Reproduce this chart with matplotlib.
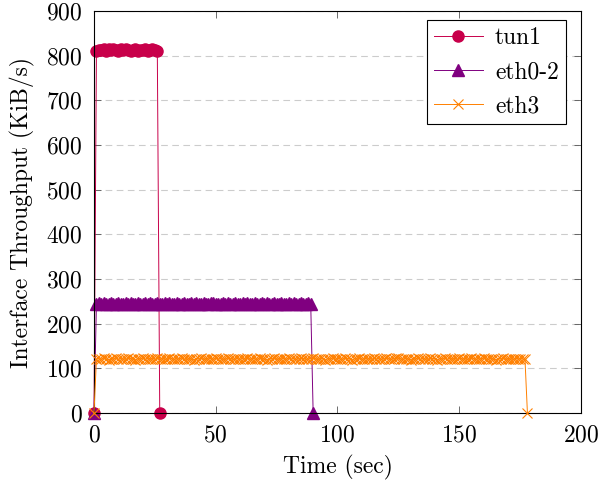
import numpy as np
import matplotlib.pyplot as plt

plt.rcParams['font.family'] = 'cmr10'
plt.rcParams['mathtext.fontset'] = 'cm'
plt.rcParams['axes.formatter.use_mathtext'] = True

# throughput samples, one per second
tun1 = [0,
        810, 813, 812, 815, 811, 814, 812, 816, 813, 811,
        814, 812, 815, 813, 810, 812, 814, 811, 813, 812,
        815, 811, 813, 814, 812, 810,
        0]

eth02 = [0,
         244, 246, 245, 247, 244, 245, 246, 243, 245, 247,
         245, 244, 246, 245, 247, 244, 245, 246, 244, 245,
         246, 245, 247, 244, 245, 246, 245, 244, 247, 245,
         246, 244, 245, 247, 245, 244, 246, 245, 244, 246,
         245, 247, 244, 245, 246, 245, 244, 246, 247, 245,
         244, 245, 246, 245, 247, 244, 245, 246, 244, 245,
         246, 245, 247, 244, 245, 246, 245, 244, 247, 245,
         246, 244, 245, 247, 245, 244, 246, 245, 244, 246,
         245, 247, 244, 245, 246, 245, 244, 246, 245,
         0]

eth3 = [0,
        121, 122, 120, 123, 121, 119, 122, 121, 123, 120,
        122, 121, 120, 123, 122, 121, 119, 122, 121, 123,
        120, 122, 121, 122, 120, 123, 121, 122, 120, 121,
        123, 122, 120, 121, 122, 123, 121, 120, 122, 121,
        119, 122, 121, 123, 120, 122, 121, 122, 120, 123,
        121, 122, 120, 121, 123, 122, 120, 121, 122, 120,
        122, 121, 123, 120, 122, 121, 120, 123, 122, 121,
        119, 122, 121, 123, 120, 122, 121, 122, 120, 123,
        121, 122, 120, 121, 123, 122, 120, 121, 122, 123,
        121, 120, 122, 121, 119, 122, 121, 123, 120, 122,
        121, 120, 123, 122, 121, 119, 122, 121, 123, 120,
        122, 121, 122, 120, 123, 121, 122, 120, 121, 123,
        122, 120, 121, 124, 123, 121, 120, 122, 121, 119,
        122, 121, 123, 120, 122, 121, 120, 123, 122, 121,
        119, 122, 121, 123, 120, 122, 121, 122, 120, 123,
        121, 122, 120, 121, 123, 122, 120, 121, 122, 123,
        121, 120, 122, 121, 119, 122, 121, 123, 120, 122,
        121, 120, 122, 121, 122, 121, 120,
        0]

t_tun1 = np.arange(len(tun1))
t_eth02 = np.arange(len(eth02))
t_eth3 = np.arange(len(eth3))

fs = 17

fig = plt.figure(figsize=(6.03, 4.83), dpi=100)
ax = fig.add_axes([0.1559, 0.1449, 0.8076, 0.8323])

ax.plot(t_eth3, eth3, color='#ff8000', lw=0.7, marker='x', ms=6.5, mew=0.8,
        label='eth3', clip_on=False, zorder=3)
ax.plot(t_eth02, eth02, color='#800080', lw=0.7, marker='^', ms=8,
        label='eth0-2', clip_on=False, zorder=2)
ax.plot(t_tun1, tun1, color='#c8004a', lw=0.7, marker='o', ms=8,
        label='tun1', clip_on=False, zorder=1)

ax.set_xlim(0, 200)
ax.set_ylim(0, 900)
ax.set_xticks(np.arange(0, 201, 50))
ax.set_yticks(np.arange(0, 901, 100))
ax.tick_params(direction='in', top=True, right=True, length=5, width=0.6,
               labelsize=fs, pad=8, color='#555555')
ax.yaxis.grid(True, ls=(0, (6, 4)), color='#cccccc', lw=0.8)
ax.set_axisbelow(True)
for s in ax.spines.values():
    s.set_linewidth(0.8)

ax.set_xlabel('Time (sec)', fontsize=fs, labelpad=6)
ax.set_ylabel('Interface Throughput (KiB/s)', fontsize=fs, labelpad=8)

h, l = ax.get_legend_handles_labels()
leg = ax.legend(h[::-1], l[::-1], loc='upper right', bbox_to_anchor=(0.9692, 0.9776),
                borderaxespad=0, fontsize=fs, fancybox=False, framealpha=1,
                edgecolor='black', handlelength=2.1, handletextpad=0.5,
                borderpad=0.3, labelspacing=0.5)
leg.get_frame().set_linewidth(0.8)
leg.set_zorder(5)

fig.savefig('out.png', dpi=100)
